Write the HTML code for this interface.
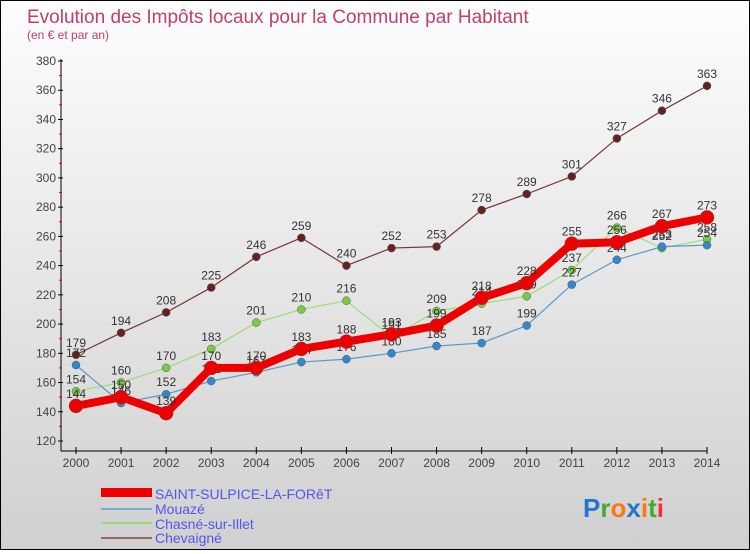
<!DOCTYPE html>
<html><head><meta charset="utf-8"><style>
html,body{margin:0;padding:0}
body{width:750px;height:550px;overflow:hidden;font-family:"Liberation Sans",sans-serif}
#wrap{position:relative;width:748px;height:548px;border:1px solid #000;background:linear-gradient(#fdfdfd,#d0d0d0)}
</style></head><body>
<div id="wrap">
<svg id="svg" width="748" height="548" xmlns="http://www.w3.org/2000/svg">
<text x="26" y="22" font-size="19" fill="#c0406a">Evolution des Impôts locaux pour la Commune par Habitant</text>
<text x="26" y="38" font-size="12" fill="#c0406a">(en € et par an)</text>
<g id="axes"></g><g id="series"></g>
<g>
<rect x="100" y="487" width="51" height="9" fill="#ee0000"/>
<text x="154" y="498" font-size="14" fill="#5555ee">SAINT-SULPICE-LA-FORêT</text>
<rect x="100" y="507" width="51" height="2" fill="#7aaed6"/>
<text x="154" y="513" font-size="14" fill="#5555ee">Mouazé</text>
<rect x="100" y="521" width="51" height="2" fill="#99dd77"/>
<text x="154" y="528" font-size="14" fill="#5555ee">Chasné-sur-Illet</text>
<rect x="100" y="536" width="51" height="2" fill="#996666"/>
<text x="154" y="542" font-size="14" fill="#5555ee">Chevaigné</text>
</g>
<text x="582" y="516" font-size="26" font-weight="bold"><tspan fill="#2277cc">P</tspan><tspan fill="#44aa33">r</tspan><tspan fill="#ff7711">o</tspan><tspan fill="#2277cc">x</tspan><tspan fill="#ff7711">i</tspan><tspan fill="#44aa33">t</tspan><tspan fill="#ee3333">i</tspan></text>
</svg></div>
<script>
const years=[2000,2001,2002,2003,2004,2005,2006,2007,2008,2009,2010,2011,2012,2013,2014];
const yTicks=[120,140,160,180,200,220,240,260,280,300,320,340,360,380];
const saintSulpice=[144,150,139,170,170,183,188,193,199,218,228,255,256,267,273];
const mouaze=[172,146,152,161,167,174,176,180,185,187,199,227,244,253,254];
const chasne=[154,160,170,183,201,210,216,191,209,214,219,237,266,252,258];
const chevaigne=[179,194,208,225,246,259,240,252,253,278,289,301,327,346,363];
const NS='http://www.w3.org/2000/svg';
const xs=i=>75+i*(631/14);
const ys=v=>440-(v-120)*(380/260);
function mk(t,a,p){const e=document.createElementNS(NS,t);for(const k in a)e.setAttribute(k,a[k]);p.appendChild(e);return e;}
const ax=document.getElementById('axes');
let l=mk('line',{x1:60,y1:58,x2:60,y2:450,stroke:'#000'},ax);


l=mk('line',{x1:60,y1:450,x2:706,y2:450,stroke:'#000'},ax);


yTicks.forEach(v=>{const y=ys(v);
 mk('line',{x1:57,y1:y,x2:62,y2:y,stroke:'#000'},ax);
 if(v<380)mk('line',{x1:58,y1:ys(v+10),x2:61,y2:ys(v+10),stroke:'#e00'},ax);
 const t=mk('text',{x:55,y:y+4,'font-size':12,fill:'#444','text-anchor':'end'},ax);t.textContent=v;
 
 
});
years.forEach((yr,i)=>{const x=xs(i);
 mk('line',{x1:x,y1:446,x2:x,y2:453,stroke:'#000'},ax);
 const t=mk('text',{x:x,y:466,'font-size':12,fill:'#444','text-anchor':'middle'},ax);t.textContent=yr;
 
 
});
const sg=document.getElementById('series');
function draw(name,data,color,w,r,dot){
 const g=mk('g',{},sg);
 
 
 mk('polyline',{points:data.map((v,i)=>xs(i)+','+ys(v)).join(' '),fill:'none',stroke:color,'stroke-width':w,'stroke-linejoin':'round'},g);
 data.forEach((v,i)=>{const c=mk('circle',{cx:xs(i),cy:ys(v),r:r,fill:dot,stroke:'#555','stroke-width':0.5},g);
  
  
  const t=mk('text',{x:xs(i),y:ys(v)-8,'font-size':12,fill:'#333','text-anchor':'middle'},g);t.textContent=v;
  
  
 });
}
draw('chevaigne',chevaigne,'#773333',1.2,4,'#662222');
draw('chasne',chasne,'#99dd77',1.2,4,'#77cc44');
draw('mouaze',mouaze,'#5599cc',1.2,4,'#3388cc');
draw('saint-sulpice',saintSulpice,'#ee0000',8,7,'#ee0000');
</script>
</body></html>
